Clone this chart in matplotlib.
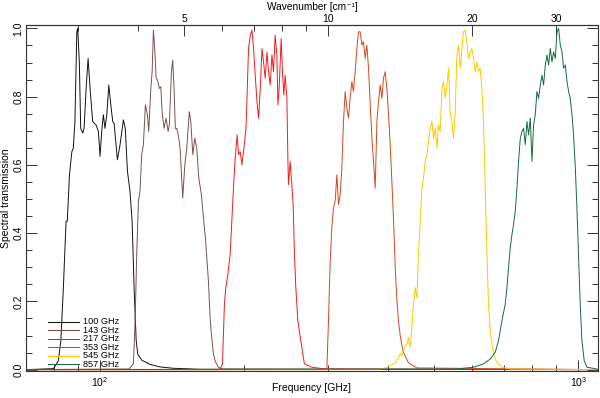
import matplotlib
matplotlib.use("Agg")
import matplotlib.pyplot as plt
from matplotlib.ticker import FixedLocator, NullFormatter, FixedFormatter, LogLocator

plt.rcParams['font.family'] = ['Liberation Sans', 'DejaVu Sans']
plt.rcParams['mathtext.fontset'] = 'custom'
plt.rcParams['mathtext.rm'] = 'Liberation Sans'

bands = ['100 GHz', '143 GHz', '217 GHz', '353 GHz', '545 GHz', '857 GHz']
colors = ['#111111', '#7a5050', '#f01c1c', '#d4461c', '#ffc800', '#136b3c']

freq_100 = [70, 79.9, 81.8, 82.8, 83.8, 84.9, 85.4, 86.3, 87.3, 87.9,
            88.6, 89.4, 89.8, 90.5, 91.1, 92.0, 92.6, 93.5, 94.4, 95.3,
            96.5, 98.1, 99.2, 100.0, 100.8, 101.6, 102.4, 103.3, 104.3, 105.3,
            106.3, 107.0, 108.7, 110.1, 111.9, 112.9, 114.1, 115.5, 116.7, 117.8,
            119.0, 119.9, 122.2, 127.3, 133.5, 142.1, 161.9, 1100]
trans_100 = [0.0, 0.003, 0.026, 0.085, 0.24, 0.435, 0.435, 0.571, 0.639, 0.649,
             0.727, 0.99, 1.0, 0.90, 0.707, 0.693, 0.707, 0.824, 0.912, 0.824,
             0.727, 0.717, 0.698, 0.625, 0.698, 0.747, 0.707, 0.747, 0.834, 0.776,
             0.727, 0.722, 0.615, 0.659, 0.732, 0.707, 0.581, 0.523, 0.435, 0.24,
             0.085, 0.045, 0.028, 0.015, 0.008, 0.004, 0.001, 0.0]

freq_143 = [70, 115.0, 117.4, 118.4, 119.3, 120.3, 121.2, 122.2, 123.2, 124.4,
            125.6, 126.4, 127.7, 128.5, 129.3, 130.1, 131.0, 131.8, 133.1, 134.0,
            134.8, 136.1, 137.4, 138.8, 139.6, 141.0, 141.9, 142.8, 143.7, 144.7,
            146.1, 147.0, 148.9, 150.4, 151.8, 153.7, 154.8, 156.3, 157.8, 159.3,
            160.9, 162.9, 164.5, 166.1, 168.5, 169.9, 171.3, 172.6, 174.1, 176.8,
            180.0, 1100]
trans_143 = [0.0, 0.002, 0.017, 0.143, 0.338, 0.493, 0.523, 0.630, 0.659, 0.776,
             0.747, 0.698, 0.824, 0.873, 0.995, 0.941, 0.854, 0.849, 0.824, 0.829,
             0.756, 0.707, 0.737, 0.698, 0.717, 0.873, 0.907, 0.824, 0.707, 0.707,
             0.678, 0.649, 0.503, 0.600, 0.649, 0.756, 0.727, 0.630, 0.678, 0.649,
             0.561, 0.513, 0.445, 0.386, 0.26, 0.15, 0.09, 0.047, 0.025, 0.007,
             0.002, 0.0]

freq_217 = [70, 176.0, 178.3, 180.3, 182.0, 183.2, 185.0, 187.1, 188.6, 190.1,
            191.7, 193.5, 194.8, 196.4, 198.0, 199.9, 201.9, 203.2, 204.4, 206.1,
            207.8, 209.4, 211.1, 212.9, 214.5, 216.3, 218.1, 219.7, 221.5, 223.4,
            225.1, 226.9, 228.8, 230.5, 232.4, 234.3, 235.5, 236.9, 239.2, 240.7,
            242.3, 243.8, 245.9, 247.1, 247.8, 249.8, 251.8, 253.4, 255.0, 256.7,
            259.2, 261.7, 264.2, 267.5, 277.2, 295.7, 1100]
trans_217 = [0.0, 0.0, 0.002, 0.017, 0.192, 0.24, 0.279, 0.338, 0.435, 0.532,
             0.620, 0.688, 0.630, 0.639, 0.600, 0.649, 0.707, 0.824, 0.941, 0.98,
             0.995, 0.941, 0.863, 0.785, 0.737, 0.824, 0.941, 0.902, 0.854, 0.931,
             0.873, 0.834, 0.922, 0.873, 0.98, 0.922, 0.776, 0.824, 0.970, 0.873,
             0.805, 0.863, 0.795, 0.610, 0.542, 0.610, 0.542, 0.484, 0.338, 0.24,
             0.143, 0.104, 0.065, 0.017, 0.007, 0.002, 0.0]

freq_353 = [70, 296.0, 298.1, 300.4, 302.9, 305.3, 307.7, 310.2, 312.8, 315.2,
            317.8, 320.4, 322.9, 325.6, 328.2, 330.8, 333.4, 336.2, 338.8, 341.6,
            344.4, 347.1, 349.9, 352.8, 355.5, 358.5, 361.4, 364.3, 367.3, 370.3,
            373.2, 376.2, 379.3, 382.2, 385.4, 388.5, 391.5, 394.7, 398.0, 401.1,
            404.4, 407.7, 410.9, 414.3, 417.7, 421.0, 424.4, 427.9, 431.2, 441.6,
            459.8, 1100]
trans_353 = [0.0, 0.0, 0.002, 0.143, 0.318, 0.416, 0.474, 0.493, 0.571, 0.484,
             0.513, 0.591, 0.727, 0.815, 0.766, 0.737, 0.795, 0.844, 0.815, 0.873,
             0.941, 0.990, 0.990, 0.951, 0.961, 0.912, 0.951, 0.883, 0.776, 0.678,
             0.610, 0.532, 0.727, 0.785, 0.834, 0.795, 0.854, 0.873, 0.824, 0.75,
             0.66, 0.55, 0.44, 0.30, 0.20, 0.14, 0.10, 0.07, 0.05, 0.02,
             0.005, 0.0]

freq_545 = [70, 380.0, 394.7, 404.4, 414.3, 417.7, 424.4, 427.9, 431.2, 438.3,
            441.6, 445.2, 448.9, 452.3, 456.1, 459.8, 463.4, 467.3, 471.1, 474.8,
            478.6, 482.6, 486.3, 490.3, 494.4, 498.2, 502.3, 506.4, 510.3, 514.5,
            518.8, 522.8, 527.1, 531.4, 535.6, 540.0, 544.4, 548.6, 553.1, 557.6,
            562.0, 566.6, 571.3, 575.4, 580.3, 585.1, 589.6, 594.5, 599.3, 604.0,
            608.9, 614.0, 618.7, 623.8, 628.9, 633.8, 639.0, 644.3, 649.2, 654.6,
            665.1, 676.1, 692.6, 721.0, 1100]
trans_545 = [0.0, 0.0, 0.005, 0.012, 0.02, 0.027, 0.046, 0.04, 0.06, 0.075,
             0.094, 0.065, 0.124, 0.192, 0.24, 0.211, 0.338, 0.435, 0.532, 0.561,
             0.610, 0.630, 0.669, 0.707, 0.727, 0.678, 0.707, 0.649, 0.717, 0.698,
             0.824, 0.844, 0.795, 0.834, 0.883, 0.747, 0.727, 0.678, 0.756, 0.922,
             0.951, 0.883, 0.941, 0.990, 0.995, 0.961, 0.912, 0.931, 0.941, 0.912,
             0.873, 0.902, 0.873, 0.883, 0.824, 0.727, 0.532, 0.338, 0.192, 0.114,
             0.046, 0.021, 0.007, 0.002, 0.0]

freq_857 = [70, 557.6, 604.0, 633.8, 654.6, 670.6, 681.3, 692.6, 703.7, 709.4,
            715.0, 720.8, 726.8, 732.4, 738.5, 744.6, 750.3, 756.6, 762.7, 768.7,
            774.9, 781.4, 787.4, 793.9, 800.3, 806.6, 813.1, 819.9, 826.2, 833.1,
            840.0, 846.4, 853.5, 860.4, 867.1, 874.2, 881.4, 888.2, 895.6, 902.9,
            910.0, 917.4, 925.0, 932.1, 939.8, 947.5, 954.9, 962.6, 970.4, 977.9,
            985.6, 993.8, 1001.4, 1009.7, 1017.9, 1029.4, 1042.7, 1094, 1100]
trans_857 = [0.0, 0.002, 0.007, 0.017, 0.031, 0.051, 0.085, 0.143, 0.192, 0.24,
             0.299, 0.357, 0.396, 0.425, 0.464, 0.532, 0.610, 0.678, 0.698, 0.707,
             0.659, 0.727, 0.688, 0.737, 0.610, 0.717, 0.747, 0.815, 0.795, 0.834,
             0.863, 0.834, 0.893, 0.922, 0.893, 0.941, 0.902, 0.931, 0.912, 0.990,
             1.0, 0.951, 0.931, 0.883, 0.893, 0.844, 0.815, 0.795, 0.747, 0.688,
             0.600, 0.474, 0.338, 0.192, 0.085, 0.026, 0.007, 0.002, 0.0]

freqs = [freq_100, freq_143, freq_217, freq_353, freq_545, freq_857]
trans = [trans_100, trans_143, trans_217, trans_353, trans_545, trans_857]

wn_major = [5, 10, 20, 30]
wn_minor = [3, 4, 6, 7, 8, 9]
C_CM = 29.9792458  # GHz per cm^-1

fig = plt.figure(figsize=(6.0, 3.98), dpi=100)
ax = fig.add_axes([26 / 600, 1 - 371 / 398, 572 / 600, 346 / 398])

for f, t, c, lab in zip(freqs, trans, colors, bands):
    ax.plot(f, t, color=c, lw=0.7, label=lab)

ax.set_xscale('log')
ax.set_xlim(70, 1100)
ax.set_ylim(-0.004, 1.01)

ax.xaxis.set_major_locator(LogLocator(base=10, numticks=10))
ax.xaxis.set_minor_locator(LogLocator(base=10, subs=[2, 3, 4, 5, 6, 7, 8, 9], numticks=20))
ax.xaxis.set_minor_formatter(NullFormatter())
ax.set_yticks([0.0, 0.2, 0.4, 0.6, 0.8, 1.0])
ax.set_yticks([i * 0.05 for i in range(21)], minor=True)
ax.set_yticklabels(['0.0', '0.2', '0.4', '0.6', '0.8', '1.0'], rotation=90, va='center')

ax.tick_params(which='both', direction='in', right=True, top=False, labelsize=7.5, width=0.7, color='#333333')
ax.tick_params(which='major', length=8)
ax.tick_params(which='minor', length=4)
ax.tick_params(axis='y', pad=2)
ax.tick_params(axis='x', pad=3)
for s in ax.spines.values():
    s.set_linewidth(0.8)
    s.set_color('#333333')

ax.set_ylabel('Spectral transmission', fontsize=7.5, labelpad=1.5)
ax.set_xlabel('Frequency [GHz]', fontsize=7.5)
ax.xaxis.set_label_coords(0.5, -0.034)

sec = ax.secondary_xaxis('top', functions=(lambda f: f / C_CM, lambda w: w * C_CM))
sec.xaxis.set_major_locator(FixedLocator(wn_major))
sec.xaxis.set_major_formatter(FixedFormatter([str(w) for w in wn_major]))
sec.xaxis.set_minor_locator(FixedLocator(wn_minor))
sec.xaxis.set_minor_formatter(NullFormatter())
sec.tick_params(which='both', direction='in', labelsize=7.5, width=0.7, color='#333333', pad=1.0)
sec.tick_params(which='major', length=8)
sec.tick_params(which='minor', length=4)
sec.spines['top'].set_linewidth(0.8)
sec.spines['top'].set_color('#333333')
fig.text(312 / 600, 1 - 1.5 / 398, 'Wavenumber [cm\u207b\u00b9]', fontsize=7.3, ha='center', va='top')

# legend drawn in axes coordinates
y0, dy = 0.142, 0.0245
for i, (c, lab) in enumerate(zip(colors, bands)):
    yy = y0 - i * dy
    ax.plot([0.0385, 0.0927], [yy, yy], color=c, lw=0.75, transform=ax.transAxes)
    ax.text(0.0997, yy, lab, fontsize=6.6, va='center', ha='left', transform=ax.transAxes)

fig.savefig('out.png', dpi=100)
